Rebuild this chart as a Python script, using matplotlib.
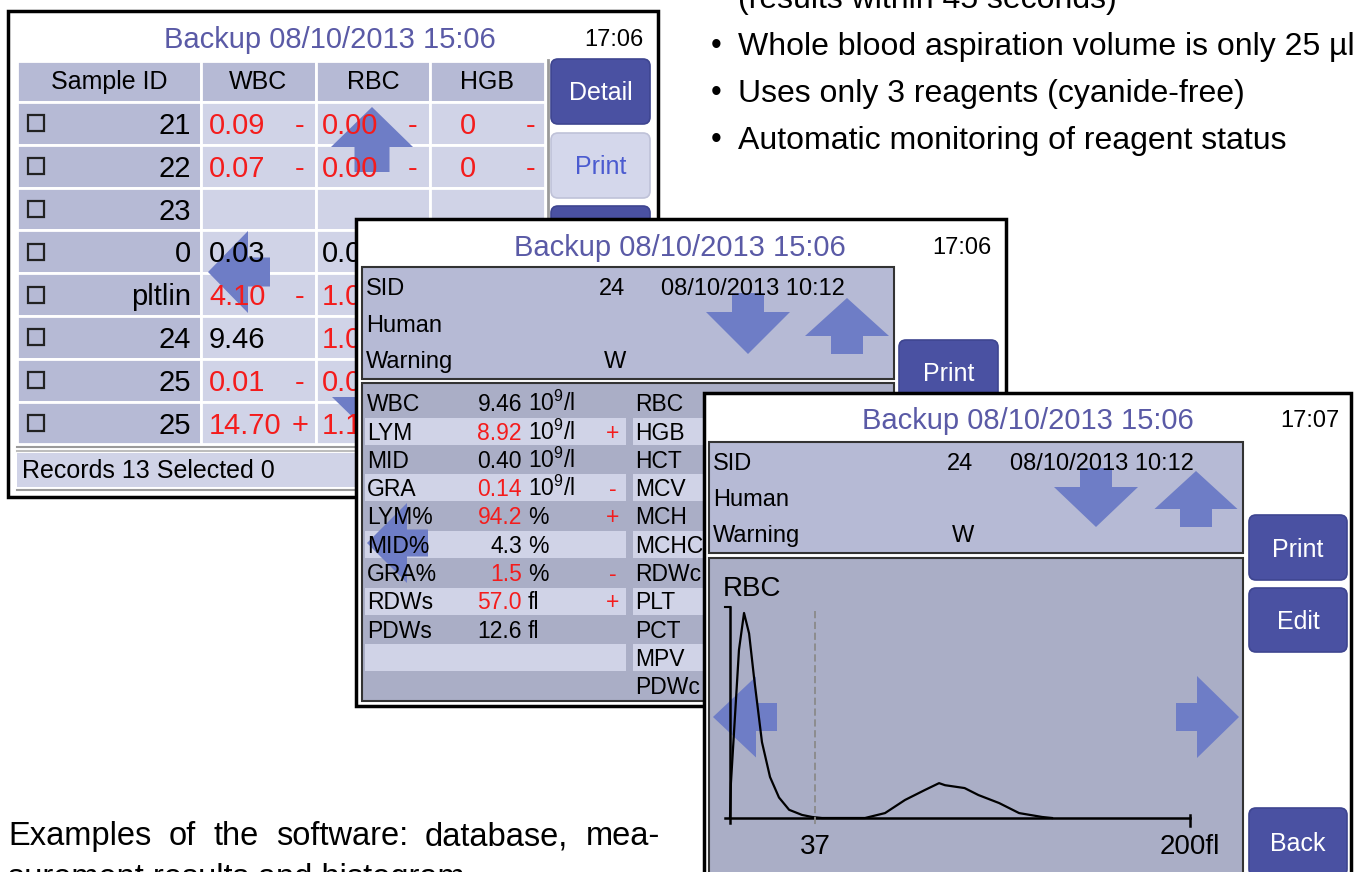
import numpy as np
import matplotlib.pyplot as plt
from matplotlib import font_manager
from matplotlib.patches import Rectangle, Polygon, FancyBboxPatch

# ---- data ----
title = "Backup 08/10/2013 15:06"

db_columns = ["Sample ID", "WBC", "RBC", "HGB"]
db_ids = ["21", "22", "23", "0", "pltlin", "24", "25", "25"]
db_wbc = ["0.09", "0.07", "", "0.03", "4.10", "9.46", "0.01", "14.70"]
db_wbc_flag = ["-", "-", "", "", "-", "", "-", "+"]
db_wbc_red = [True, True, False, False, True, False, True, True]
# only the visible part of the RBC column (the rest is hidden by the next screen)
db_rbc = ["0.00", "0.00", "", "0.0", "1.0", "1.0", "0.0", "1.1"]
db_rbc_flag = ["-", "-", "", "", "", "", "", ""]
db_rbc_red = [True, True, False, False, True, True, True, True]
db_hgb = ["0", "0", "", "", "", "", "", ""]
db_hgb_flag = ["-", "-", "", "", "", "", "", ""]

res_names = ["WBC", "LYM", "MID", "GRA", "LYM%", "MID%", "GRA%", "RDWs", "PDWs", ""]
res_values = ["9.46", "8.92", "0.40", "0.14", "94.2", "4.3", "1.5", "57.0", "12.6", ""]
res_units = ["10$^{9}$/l", "10$^{9}$/l", "10$^{9}$/l", "10$^{9}$/l", "%", "%", "%", "fl", "fl", ""]
res_flags = ["", "+", "", "-", "+", "", "-", "+", "", ""]
res_red = [False, True, False, True, True, False, True, True, False, False]
res_right = ["RBC", "HGB", "HCT", "MCV", "MCH", "MCHC", "RDWc", "PLT", "PCT", "MPV", "PDWc"]

sample_sid = "24"
sample_date = "08/10/2013 10:12"

hist_fl = [0, 0.4, 1.7, 3.9, 6.1, 8.3, 10.4, 13.9, 17.4, 21.3, 25.7, 31.3, 35.7, 40,
           58.7, 67.4, 76.1, 84.8, 90.9, 93.5, 102, 108, 117, 125.7, 135.7, 140]
hist_counts = [0, 17, 41, 82, 100, 90, 69, 37, 20, 10, 4, 1.5, 0.5, 0,
               0, 2.4, 8.8, 13.7, 17, 16, 14.6, 11.2, 7.3, 2.4, 0.5, 0]
hist_ticks = [37, 200]
hist_tick_labels = ["37", "200fl"]

bullet_lines = ["(results within 45 seconds)",
                "Whole blood aspiration volume is only 25 µl",
                "Uses only 3 reagents (cyanide-free)",
                "Automatic monitoring of reagent status"]
caption_lines = ["Examples of the software: database, mea-",
                 "surement results and histogram"]


def pick_font(names):
    for n in names:
        try:
            font_manager.findfont(n, fallback_to_default=False)
            return n
        except Exception:
            pass
    return "DejaVu Sans"


MAIN_FONT = pick_font(["Liberation Sans", "Roboto"])
UI = [MAIN_FONT, "DejaVu Sans"]
BODY = [MAIN_FONT, "DejaVu Sans"]
plt.rcParams["mathtext.fontset"] = "custom"
plt.rcParams["mathtext.rm"] = MAIN_FONT
plt.rcParams["mathtext.it"] = MAIN_FONT
plt.rcParams["mathtext.default"] = "regular"

PURPLE = "#5a5aa6"
CELL_DARK = "#b6bad5"
CELL_LIGHT = "#d0d3e7"
ROW_DARK = "#aaaec6"
BTN = "#4a51a2"
ARROW = "#6e7dc6"
RED = "#f41c1c"

fig = plt.figure(figsize=(13.56, 8.72), dpi=100)
ax = fig.add_axes([0, 0, 1, 1])
ax.set_xlim(0, 1356)
ax.set_ylim(872, 0)
ax.axis("off")


def rect(x0, y0, x1, y1, fc, z, ec="none", lw=0):
    ax.add_patch(Rectangle((x0, y0), x1 - x0, y1 - y0, facecolor=fc,
                           edgecolor=ec, linewidth=lw, zorder=z))


def label(x, y, s, size, z, color="black", ha="left", family=None):
    # y is the middle of the cap height; cap height in px is about the size in pt
    return ax.text(x, y + size / 2.0, s, fontsize=size, color=color, ha=ha,
                   va="baseline", zorder=z, family=family or UI)


def button(x0, y0, x1, y1, text, z, dark=True):
    fc = BTN if dark else "#d4d7eb"
    ec = "#3e4590" if dark else "#bfc2d8"
    ax.add_patch(FancyBboxPatch((x0, y0), x1 - x0, y1 - y0,
                                boxstyle="round,pad=0,rounding_size=7",
                                fc=fc, ec=ec, lw=1.2, zorder=z))
    label((x0 + x1) / 2, (y0 + y1) / 2, text, 18, z + 0.5,
          color="white" if dark else "#4b5bd0", ha="center")


def arrow(direction, tip, z, head_len=40, head_w=82, stem_len=20, stem_w=30):
    back = {"up": (0, 1), "down": (0, -1), "left": (1, 0), "right": (-1, 0)}[direction]
    perp = (abs(back[1]), abs(back[0]))
    local = [(0, 0), (head_len, -head_w / 2), (head_len, -stem_w / 2),
             (head_len + stem_len, -stem_w / 2), (head_len + stem_len, stem_w / 2),
             (head_len, stem_w / 2), (head_len, head_w / 2)]
    pts = [(tip[0] + u * back[0] + v * perp[0], tip[1] + u * back[1] + v * perp[1])
           for u, v in local]
    ax.add_patch(Polygon(pts, closed=True, fc=ARROW, ec="none", zorder=z))


def info_box(x0, y0, x1, y1, z, sid_x, date_x):
    rect(x0, y0, x1, y1, CELL_DARK, z, ec="#333333", lw=1.5)
    step = (y1 - y0) / 3.0
    fs = 17
    label(x0 + 4, y0 + step * 0.5 + 1, "SID", fs, z + 2)
    label(x0 + 4, y0 + step * 1.5, "Human", fs, z + 2)
    label(x0 + 4, y0 + step * 2.5 - 1, "Warning", fs, z + 2)
    label(sid_x, y0 + step * 0.5 + 1, sample_sid, fs, z + 2, ha="center")
    label(date_x, y0 + step * 0.5 + 1, sample_date, fs, z + 2)
    label(sid_x + 3, y0 + step * 2.5 - 1, "W", fs, z + 2, ha="center")


# ---------------- screen 1: database ----------------
Z1 = 10
rect(8, 11, 658, 497, "white", Z1, ec="black", lw=2.5)
label(330, 37, title, 21, Z1 + 3, color=PURPLE, ha="center")
label(614, 37, "17:06", 17, Z1 + 3, ha="center")

col_edges = [17, 201, 316, 430, 545]
for j, name in enumerate(db_columns):
    rect(col_edges[j], 61, col_edges[j + 1], 102, CELL_DARK, Z1 + 1, ec="white", lw=2)
    label((col_edges[j] + col_edges[j + 1]) / 2, 80, name, 18, Z1 + 3, ha="center")

row_h = 42.8
for i in range(len(db_ids)):
    top = 102 + i * row_h
    yc = top + row_h / 2
    for j in range(4):
        rect(col_edges[j], top, col_edges[j + 1], top + row_h,
             CELL_DARK if j == 0 else CELL_LIGHT, Z1 + 1, ec="white", lw=2)
    ax.add_patch(Rectangle((28, yc - 8), 16, 16, fc="none", ec="#222222", lw=1.6, zorder=Z1 + 3))
    label(191, yc, db_ids[i], 21, Z1 + 3, ha="right")
    c = RED if db_wbc_red[i] else "black"
    label(209, yc, db_wbc[i], 21, Z1 + 3, color=c)
    label(300, yc, db_wbc_flag[i], 21, Z1 + 3, color=c, ha="center")
    c = RED if db_rbc_red[i] else "black"
    label(322, yc, db_rbc[i], 21, Z1 + 3, color=c)
    label(413, yc, db_rbc_flag[i], 21, Z1 + 3, color=c, ha="center")
    label(468, yc, db_hgb[i], 21, Z1 + 3, color=RED, ha="center")
    label(531, yc, db_hgb_flag[i], 21, Z1 + 3, color=RED, ha="center")

ax.plot([547.5, 547.5], [60, 450], color="#9a9a9a", lw=2, zorder=Z1 + 2)
ax.plot([17, 545], [447, 447], color="#9a9a9a", lw=1.5, zorder=Z1 + 2)
ax.plot([17, 545], [450.5, 450.5], color="#bdbdbd", lw=1.5, zorder=Z1 + 2)
rect(17, 453, 545, 487, CELL_LIGHT, Z1 + 1)
ax.plot([17, 545], [489.5, 489.5], color="#9a9a9a", lw=1.5, zorder=Z1 + 2)
label(22, 469, "Records 13 Selected 0", 18, Z1 + 3)

button(551, 59, 650, 124, "Detail", Z1 + 1)
button(551, 133, 650, 198, "Print", Z1 + 1, dark=False)
button(551, 206, 650, 262, "", Z1 + 1)

arrow("up", (372, 107), Z1 + 2, stem_len=25, stem_w=35)
arrow("left", (208, 272), Z1 + 2, stem_len=22, stem_w=29)
arrow("down", (373, 437), Z1 + 2, stem_len=14, stem_w=35)

# ---------------- screen 2: measurement results ----------------
Z2 = 20
rect(356, 219, 1006, 706, "white", Z2, ec="black", lw=2.5)
label(680, 245, title, 21, Z2 + 3, color=PURPLE, ha="center")
label(962, 245, "17:06", 17, Z2 + 3, ha="center")
info_box(362, 267, 894, 379, Z2 + 1, 612, 661)
button(899, 340, 998, 404, "Print", Z2 + 1)

rect(362, 383, 894, 701, ROW_DARK, Z2 + 1, ec="#333333", lw=1.5)
fs_res = 16.5
for i, rname in enumerate(res_right):
    yc = 403 + i * 28.3
    if i % 2 == 1:
        rect(365, yc - 13.5, 626, yc + 13.5, CELL_LIGHT, Z2 + 1.5)
        rect(633, yc - 13.5, 892, yc + 13.5, CELL_LIGHT, Z2 + 1.5)
    label(635, yc, rname, fs_res, Z2 + 3)
    if i < len(res_names):
        c = RED if res_red[i] else "black"
        label(367, yc, res_names[i], fs_res, Z2 + 3)
        label(522, yc, res_values[i], fs_res, Z2 + 3, color=c, ha="right")
        label(528, yc, res_units[i], fs_res, Z2 + 3)
        label(613, yc, res_flags[i], fs_res, Z2 + 3, color=RED, ha="center")

arrow("down", (748, 354), Z2 + 2, head_len=42, head_w=84, stem_len=19, stem_w=32)
arrow("up", (847, 298), Z2 + 2, head_len=38, head_w=84, stem_len=18, stem_w=32)
arrow("left", (367, 543), Z2 + 2, head_len=40, head_w=80, stem_len=21, stem_w=27)

# ---------------- screen 3: histogram ----------------
Z3 = 30
rect(704, 393, 1351, 900, "white", Z3, ec="black", lw=2.5)
label(1028, 418, title, 21, Z3 + 3, color=PURPLE, ha="center")
label(1310, 418, "17:07", 17, Z3 + 3, ha="center")
info_box(709, 442, 1243, 553, Z3 + 1, 960, 1010)
button(1249, 515, 1347, 580, "Print", Z3 + 1)
button(1249, 588, 1347, 652, "Edit", Z3 + 1)
button(1249, 808, 1347, 876, "Back", Z3 + 1)

rect(709, 558, 1243, 900, ROW_DARK, Z3 + 1, ec="#333333", lw=1.5)
label(723, 586, "RBC", 20, Z3 + 3)
arrow("down", (1096, 527), Z3 + 2, head_len=40, head_w=84, stem_len=19, stem_w=32)
arrow("up", (1196, 471), Z3 + 2, head_len=38, head_w=83, stem_len=18, stem_w=32)
arrow("left", (713, 717), Z3 + 2, head_len=43, head_w=81, stem_len=21, stem_w=28)
arrow("right", (1239, 717), Z3 + 2, head_len=42, head_w=82, stem_len=21, stem_w=28)

# histogram drawn in its own axes: 0 fl at x=730 px, 200 fl at x=1190 px,
# baseline at y=818 px, 100 counts at y=613 px
hax = fig.add_axes([709 / 1356, 0, 534 / 1356, (872 - 558) / 872])
hax.set_facecolor("none")
hax.axis("off")
px_fl = (1190 - 730) / 200.0
px_cnt = (818 - 613) / 100.0
hax.set_xlim(-(730 - 709) / px_fl, (1243 - 730) / px_fl)
hax.set_ylim(-(872 - 818) / px_cnt, (818 - 558) / px_cnt)
hax.plot(hist_fl, hist_counts, color="black", lw=1.6)
hax.plot([-2.2, 200], [0, 0], color="black", lw=1.8)
hax.plot([0, 0], [-2.5, 103], color="black", lw=1.8)
hax.plot([-2.2, 0], [103, 103], color="black", lw=1.5)
hax.plot([200, 200], [1.5, -3.9], color="black", lw=1.8)
hax.plot([37, 37], [101, -4.4], color="#8a8a8a", lw=1.3, ls=(0, (4, 2)))
for t, tl in zip(hist_ticks, hist_tick_labels):
    hax.text(t, -14, tl, fontsize=20, ha="center", va="center", family=UI)

# ---------------- brochure text ----------------
for k, line in enumerate(bullet_lines):
    yb = 8 + 47 * k
    ax.text(738, yb, line, fontsize=23, family=BODY, va="baseline", zorder=5)
    if k > 0:
        ax.text(716, yb - 9, "•", fontsize=22, family=BODY, ha="center", va="center", zorder=5)

words = caption_lines[0].split()
word_objs = [ax.text(0, 845, w, fontsize=23.5, family=BODY, va="baseline", zorder=5) for w in words]
fig.canvas.draw()
renderer = fig.canvas.get_renderer()
widths = [t.get_window_extent(renderer).width for t in word_objs]
gap = (660 - 8 - sum(widths)) / (len(widths) - 1)
x = 8
for t, w in zip(word_objs, widths):
    t.set_x(x)
    x += w + gap
ax.text(8, 887, caption_lines[1], fontsize=23.5, family=BODY, va="baseline", zorder=5)

fig.savefig("out.png", dpi=100)
